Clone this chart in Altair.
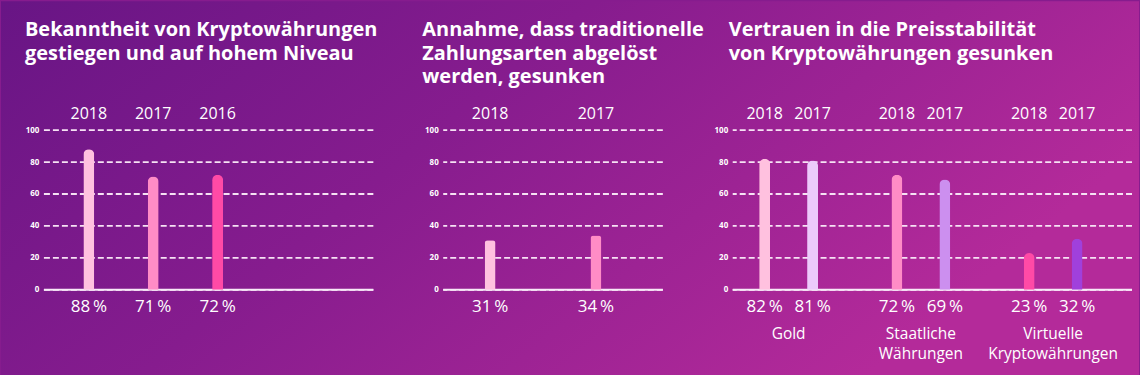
import altair as alt
import pandas as pd

# ---------------- data ----------------
titles = [
    "Bekanntheit von Kryptowährungen\ngestiegen und auf hohem Niveau",
    "Annahme, dass traditionelle\nZahlungsarten abgelöst\nwerden, gesunken",
    "Vertrauen in die Preisstabilität\nvon Kryptowährungen gesunken",
]

p1_years = ["2018", "2017", "2016"]
p1_values = [88, 71, 72]

p2_years = ["2018", "2017"]
p2_values = [31, 34]

p3_groups = ["Gold", "Gold", "Staatliche Währungen", "Staatliche Währungen",
             "Virtuelle Kryptowährungen", "Virtuelle Kryptowährungen"]
p3_years = ["2018", "2017", "2018", "2017", "2018", "2017"]
p3_values = [82, 81, 72, 69, 23, 32]
p3_group_names = ["Gold", "Staatliche Währungen", "Virtuelle Kryptowährungen"]
p3_group_labels = ["Gold", "Staatliche\nWährungen", "Virtuelle\nKryptowährungen"]

y_ticks = [0, 20, 40, 60, 80, 100]

# ---------------- styles ----------------
p1_colors = ["#ffc1df", "#ff8cc6", "#ff4aa6"]
p2_colors = ["#ffc1df", "#ff8cc6"]
p3_colors = ["#ffc1df", "#eccafb", "#ff8cc6", "#cc8fef", "#ff4aa6", "#a040dc"]

FONT = "Open Sans"
WHITE = "#ffffff"
GRID = "#f6e2f4"
PLOT_H = 160

bg_gradient = alt.LinearGradient(
    gradient="linear",
    stops=[
        alt.GradientStop(color="#681585", offset=0),
        alt.GradientStop(color="#861c8e", offset=0.45),
        alt.GradientStop(color="#b42a9a", offset=1),
    ],
    x1=0, y1=0, x2=1, y2=0.4,
)

yscale = alt.Scale(domain=[0, 100], nice=False, zero=True)
yaxis = alt.Axis(values=y_ticks, grid=False, domain=False, ticks=False,
                 labelColor=WHITE, labelFont=FONT, labelFontSize=8,
                 labelFontWeight="bold", labelPadding=5, title=None, zindex=1)


def pct(v):
    return f"{v}\u2009%"


def grid_layers():
    grid = alt.Chart(pd.DataFrame({"v": y_ticks})).mark_rule(
        color=GRID, strokeWidth=1.8, strokeDash=[6, 3]
    ).encode(y=alt.Y("v:Q", scale=yscale, axis=yaxis))
    base = alt.Chart(pd.DataFrame({"v": [0]})).mark_rule(
        color="#f8eaf8", strokeWidth=2
    ).encode(y=alt.Y("v:Q", scale=yscale, axis=yaxis))
    return [grid, base]


def title_layer(text, dx):
    return alt.Chart(pd.DataFrame({"t": [text]})).mark_text(
        align="left", baseline="alphabetic", lineBreak="\n", lineHeight=23.5,
        font=FONT, fontSize=20, fontWeight="bold", color=WHITE
    ).encode(x=alt.value(dx), y=alt.value(35 - 129), text="t:N")


def text_layers(df, x, xo=None):
    enc_extra = {"xOffset": xo} if xo is not None else {}
    years = alt.Chart(df).mark_text(font=FONT, fontSize=16, color=WHITE, baseline="middle").encode(
        x=x, y=alt.value(-16), text="year:N", **enc_extra)
    pcts = alt.Chart(df).mark_text(font=FONT, fontSize=17, color=WHITE, baseline="middle").encode(
        x=x, y=alt.value(PLOT_H + 17), text="label:N", **enc_extra)
    return [years, pcts]


# ---------------- panel 1 ----------------
df1 = pd.DataFrame({"year": p1_years, "value": p1_values,
                    "label": [pct(v) for v in p1_values]})
x1 = alt.X("year:N", sort=p1_years, axis=None,
           scale=alt.Scale(range=[12.75, 206.25], paddingInner=0, paddingOuter=0))

# full-canvas gradient background, drawn first (panel 1 is rendered before the others)
bg = alt.Chart(pd.DataFrame({"a": [0]})).mark_rect(color=bg_gradient).encode(
    x=alt.value(-43), x2=alt.value(1097), y=alt.value(-129), y2=alt.value(246)
)

bars1 = alt.Chart(df1).mark_bar(size=11, cornerRadiusTopLeft=5.5, cornerRadiusTopRight=5.5).encode(
    x=x1,
    y=alt.Y("value:Q", scale=yscale, axis=yaxis),
    color=alt.Color("year:N", scale=alt.Scale(domain=p1_years, range=p1_colors), legend=None),
)

panel1 = alt.layer(bg, *grid_layers(), bars1, *text_layers(df1, x1),
                   title_layer(titles[0], -19)).properties(width=330, height=PLOT_H)

# ---------------- panel 2 ----------------
df2 = pd.DataFrame({"year": p2_years, "value": p2_values,
                    "label": [pct(v) for v in p2_values]})
x2 = alt.X("year:N", sort=p2_years, axis=None,
           scale=alt.Scale(range=[-6, 206], paddingInner=0, paddingOuter=0))
bars2 = alt.Chart(df2).mark_bar(size=11, cornerRadiusTopLeft=3, cornerRadiusTopRight=3).encode(
    x=x2,
    y=alt.Y("value:Q", scale=yscale, axis=yaxis),
    color=alt.Color("year:N", scale=alt.Scale(domain=p2_years, range=p2_colors), legend=None),
)

panel2 = alt.layer(*grid_layers(), bars2, *text_layers(df2, x2),
                   title_layer(titles[1], -21)).properties(width=220, height=PLOT_H)

# ---------------- panel 3 ----------------
df3 = pd.DataFrame({"group": p3_groups, "year": p3_years, "value": p3_values,
                    "key": [f"{g} {y}" for g, y in zip(p3_groups, p3_years)],
                    "label": [pct(v) for v in p3_values]})
keys3 = list(df3["key"])
x3 = alt.X("group:N", sort=p3_group_names, axis=None,
           scale=alt.Scale(range=[-10.25, 387.25], paddingInner=0, paddingOuter=0))
xo3 = alt.XOffset("year:N", sort=["2018", "2017"],
                  scale=alt.Scale(paddingOuter=0.38, paddingInner=0))

bars3 = alt.Chart(df3).mark_bar(size=11, cornerRadiusTopLeft=5.5, cornerRadiusTopRight=5.5).encode(
    x=x3, xOffset=xo3,
    y=alt.Y("value:Q", scale=yscale, axis=yaxis),
    color=alt.Color("key:N", scale=alt.Scale(domain=keys3, range=p3_colors), legend=None),
)
cats3 = alt.Chart(pd.DataFrame({"group": p3_group_names, "label": p3_group_labels})).mark_text(
    font=FONT, fontSize=15.5, color=WHITE, baseline="top", lineBreak="\n", lineHeight=20
).encode(x=x3, y=alt.value(PLOT_H + 37), text="label:N")

panel3 = alt.layer(*grid_layers(), bars3, *text_layers(df3, x3, xo3), cats3,
                   title_layer(titles[2], -4)).properties(width=400, height=PLOT_H)

chart = alt.hconcat(panel1, panel2, panel3, spacing=70, bounds="flush").resolve_scale(
    color="independent", x="independent", y="independent", xOffset="independent"
).properties(
    padding=0,
    background="#861c8e",
).configure_view(stroke="transparent")

chart.save("out.html", embed_options={"renderer": "svg", "actions": False})
